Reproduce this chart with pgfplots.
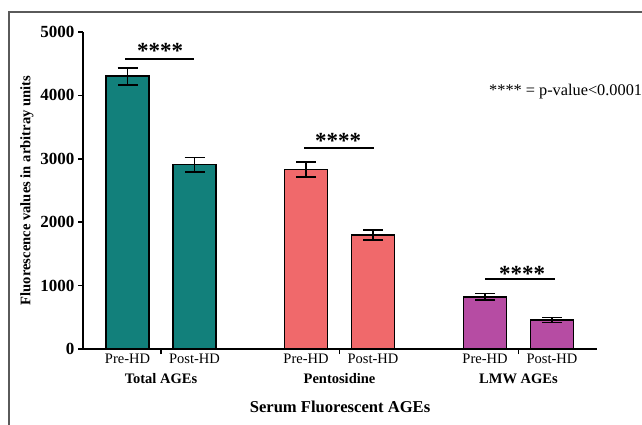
\documentclass[border=0pt]{standalone}
\usepackage{fontspec}
\setmainfont{Liberation Serif}
\usepackage{pgfplots}
\pgfplotsset{compat=1.18}
\definecolor{cteal}{HTML}{12807B}
\definecolor{cpink}{HTML}{F0696B}
\definecolor{cpurp}{HTML}{B64CA3}
\definecolor{cframe}{HTML}{5A5A5A}
\begin{document}
\begin{tikzpicture}
\useasboundingbox (0,0) rectangle (642pt,424pt);
\clip (0,0) rectangle (642pt,424pt);
\draw[cframe, line width=1.4pt] (9pt,-2pt) -- (9pt,412pt) -- (650pt,412pt);
\node[anchor=base west, inner sep=0pt, font=\fontsize{16.3}{16.3}\selectfont] at (489pt,328pt) {**** = p-value<0.0001};
\begin{axis}[
  at={(83pt,75pt)}, anchor=south west,
  scale only axis, width=514pt, height=317pt,
  xmin=83, xmax=597, ymin=0, ymax=5000,
  axis x line*=bottom, axis y line*=left,
  axis line style={line width=1.6pt, black},
  tick style={line width=1.6pt, black},
  tick align=outside, major tick length=5pt,
  ytick={0,1000,2000,3000,4000,5000},
  scaled y ticks=false,
  /pgf/number format/1000 sep={},
  /pgf/number format/assume math mode=true,
  yticklabel style={font=\bfseries\fontsize{17}{17}\selectfont},
  xtick={161,339.5,518.5},
  xticklabels={
    {\makebox[67pt]{Pre-HD}\makebox[67pt]{Post-HD}\\\textbf{Total AGEs}},
    {\makebox[67pt]{Pre-HD}\makebox[67pt]{Post-HD}\\\textbf{Pentosidine}},
    {\makebox[67pt]{Pre-HD}\makebox[67pt]{Post-HD}\\\textbf{LMW AGEs}}},
  xticklabel style={align=center, yshift=4pt, font=\fontsize{14.5}{20}\selectfont},
  ylabel={\textbf{Fluorescence values in arbitray units}},
  ylabel style={at={(axis description cs:-0.109,0.5)}, anchor=center, font=\fontsize{14.6}{14.6}\selectfont},
  xlabel={\textbf{Serum Fluorescent AGEs}},
  xlabel style={at={(axis description cs:0.5,-0.183)}, anchor=center, font=\fontsize{16.6}{16.6}\selectfont},
  clip=false,
]
\addplot[ybar, bar width=43, bar shift=0pt, fill=cteal, draw=black, line width=1.8pt,
  error bars/.cd, y dir=both, y explicit,
  error bar style={line width=1.4pt, black}, error mark options={rotate=90, line width=1.4pt, mark size=10pt, black}]
  coordinates {(127.5,4300) +- (0,135) (194.5,2910) +- (0,115)};
\addplot[ybar, bar width=43, bar shift=0pt, fill=cpink, draw=black, line width=1.8pt,
  error bars/.cd, y dir=both, y explicit,
  error bar style={line width=1.4pt, black}, error mark options={rotate=90, line width=1.4pt, mark size=10pt, black}]
  coordinates {(306,2830) +- (0,120) (373,1800) +- (0,80)};
\addplot[ybar, bar width=43, bar shift=0pt, fill=cpurp, draw=black, line width=1.8pt,
  error bars/.cd, y dir=both, y explicit,
  error bar style={line width=1.4pt, black}, error mark options={rotate=90, line width=1.4pt, mark size=10pt, black}]
  coordinates {(485,825) +- (0,50) (552,455) +- (0,40)};
\addplot[black, line width=1.6pt] coordinates {(125,4574) (194,4574)};
\addplot[black, line width=1.6pt] coordinates {(304,3166) (374,3166)};
\addplot[black, line width=1.6pt] coordinates {(485,1104) (555,1104)};
\node[font=\bfseries\fontsize{23}{23}\selectfont, anchor=center] at (axis cs:160,4700) {****};
\node[font=\bfseries\fontsize{23}{23}\selectfont, anchor=center] at (axis cs:338,3280) {****};
\node[font=\bfseries\fontsize{23}{23}\selectfont, anchor=center] at (axis cs:522,1182) {****};
\end{axis}
\end{tikzpicture}
\end{document}
